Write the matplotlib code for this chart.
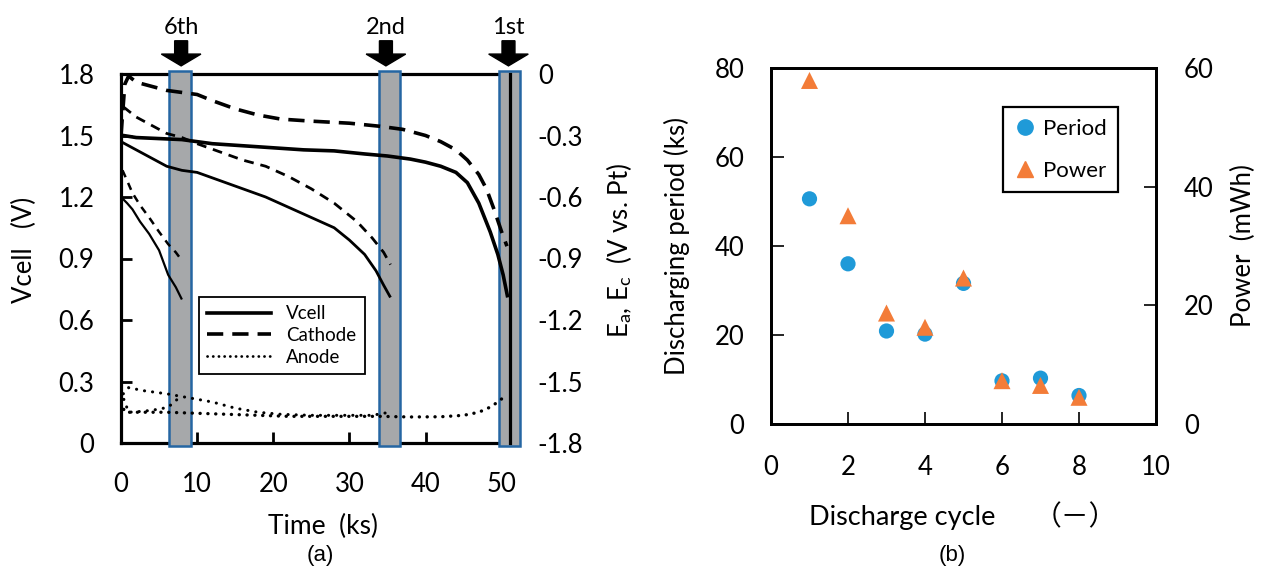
# Discharge curves (a) and discharge period / power per cycle (b)
import numpy as np
import matplotlib
matplotlib.use("Agg")
from matplotlib import pyplot as plt
from matplotlib import patches as mpatches
from matplotlib.lines import Line2D

plt.rcParams["font.family"] = ["Lato", "DejaVu Sans"]
plt.rcParams["axes.unicode_minus"] = False
plt.rcParams["mathtext.fontset"] = "custom"
plt.rcParams["mathtext.rm"] = "Lato"
plt.rcParams["mathtext.it"] = "Lato:italic"

# ----------------------------------------------------
# Data (a): time in ks, Vcell in V, electrode potentials in V vs. Pt
# ----------------------------------------------------
t_v1 = [0, 0.3, 2, 5, 8, 12, 16, 20, 24, 28, 32, 35, 38, 40, 42, 44, 45.5, 47, 48.5, 49.5, 50.2, 50.8]
vcell_1 = [1.50, 1.50, 1.49, 1.485, 1.48, 1.46, 1.45, 1.44, 1.43, 1.425, 1.41, 1.40, 1.385, 1.37,
           1.35, 1.32, 1.27, 1.17, 1.03, 0.92, 0.82, 0.71]
t_c1 = [0, 0.5, 1, 2, 4, 6, 8, 10, 12, 15, 18, 21, 25, 30, 34, 37, 40, 42, 44, 45.5, 47, 48, 49, 50, 50.7]
cath_1 = [-0.30, -0.05, -0.01, -0.04, -0.06, -0.08, -0.09, -0.10, -0.13, -0.17, -0.20, -0.22, -0.23,
          -0.24, -0.255, -0.27, -0.30, -0.33, -0.37, -0.42, -0.49, -0.56, -0.66, -0.77, -0.84]
t_a1 = [0, 0.5, 3, 6, 10, 14, 18, 22, 26, 30, 34, 38, 42, 45, 47, 48.5, 49.5, 50.5]
anode_1 = [-1.60, -1.65, -1.65, -1.65, -1.655, -1.66, -1.665, -1.67, -1.67, -1.67, -1.67, -1.673,
           -1.672, -1.665, -1.65, -1.625, -1.60, -1.57]

t_v2 = [0, 2, 4, 6, 8, 10, 13, 16, 19, 22, 25, 28, 30, 32, 33.5, 34.5, 35.4]
vcell_2 = [1.47, 1.43, 1.39, 1.35, 1.33, 1.32, 1.28, 1.24, 1.20, 1.15, 1.10, 1.05, 0.99, 0.92,
           0.84, 0.77, 0.71]
t_c2 = [0.3, 2, 4, 6, 8, 10, 13, 16, 19, 22, 25, 28, 31, 33, 34.5, 35.4]
cath_2 = [-0.16, -0.21, -0.25, -0.29, -0.31, -0.34, -0.38, -0.42, -0.45, -0.50, -0.56, -0.63,
          -0.72, -0.80, -0.87, -0.93]
t_a2 = [0.3, 1, 3, 6, 9, 12, 15, 18, 21, 25, 29, 33, 34.5, 35.3]
anode_2 = [-1.56, -1.53, -1.545, -1.56, -1.58, -1.60, -1.63, -1.65, -1.66, -1.665, -1.665, -1.665,
           -1.655, -1.65]

t_v6 = [0, 0.8, 1.5, 2.5, 3.7, 5, 6.2, 7.2, 8.0]
vcell_6 = [1.20, 1.17, 1.14, 1.08, 1.02, 0.94, 0.82, 0.76, 0.70]
t_c6 = [0.2, 0.8, 1.5, 2.5, 3.7, 5, 6.2, 7.2, 8.0]
cath_6 = [-0.47, -0.52, -0.58, -0.64, -0.70, -0.77, -0.83, -0.87, -0.91]
t_a6 = [0, 1, 3, 5, 6.2, 7, 7.6, 8.0]
anode_6 = [-1.55, -1.65, -1.645, -1.635, -1.625, -1.60, -1.58, -1.57]

band_labels = ["6th", "2nd", "1st"]
band_start = [6.3, 33.9, 49.6]
band_end = [9.2, 36.7, 52.4]
arrow_x = [7.9, 34.8, 50.9]

v_ticks = [0, 0.3, 0.6, 0.9, 1.2, 1.5, 1.8]
v_ticklabels = ["0", "0.3", "0.6", "0.9", "1.2", "1.5", "1.8"]
e_ticks = [0, -0.3, -0.6, -0.9, -1.2, -1.5, -1.8]
e_ticklabels = ["0", "-0.3", "-0.6", "-0.9", "-1.2", "-1.5", "-1.8"]

# ----------------------------------------------------
# Data (b)
# ----------------------------------------------------
cycle = [1, 2, 3, 4, 5, 6, 7, 8]
period_ks = [50.6, 36.0, 20.9, 20.2, 31.6, 9.7, 10.3, 6.4]
power_mwh = [57.9, 35.1, 18.7, 16.3, 24.6, 7.3, 6.5, 4.5]

W, H = 1262, 570


def fx(x):
    return x / W


def fy(y):
    return 1 - y / H


fig = plt.figure(figsize=(W / 100, H / 100), dpi=100)

# ----------------------------------------------------
# Panel (a)
# ----------------------------------------------------
ax = fig.add_axes([fx(121), fy(443), (510 - 121) / W, (443 - 74) / H])
ax.set_xlim(0, 51.1)
ax.set_ylim(0, 1.8)

off = 1.8  # E = V - 1.8 maps the right axis onto the left one
line_kw = dict(color="black", zorder=3, solid_capstyle="butt")
dot_kw = dict(color="black", zorder=3, dash_capstyle="round")
ax.plot(t_v1, vcell_1, lw=2.6, **line_kw)
ax.plot(t_c1, np.array(cath_1) + off, lw=2.6, ls=(0, (4.5, 2.5)), **line_kw)
ax.plot(t_a1, np.array(anode_1) + off, lw=2.4, ls=(0, (0.05, 2.3)), **dot_kw)
ax.plot(t_v2, vcell_2, lw=2.0, **line_kw)
ax.plot(t_c2, np.array(cath_2) + off, lw=2.0, ls=(0, (3.5, 2.5)), **line_kw)
ax.plot(t_a2, np.array(anode_2) + off, lw=2.2, ls=(0, (0.05, 2.6)), **dot_kw)
ax.plot(t_v6, vcell_6, lw=1.6, **line_kw)
ax.plot(t_c6, np.array(cath_6) + off, lw=1.8, ls=(0, (3.0, 2.5)), **line_kw)
ax.plot(t_a6, np.array(anode_6) + off, lw=2.2, ls=(0, (0.05, 2.6)), **dot_kw)

for x0, x1, xa, lab in zip(band_start, band_end, arrow_x, band_labels):
    ax.add_patch(mpatches.Rectangle((x0, -0.016), x1 - x0, 1.832, facecolor="#a6a8aa",
                                    edgecolor="#2566a3", lw=1.8, zorder=2.6, clip_on=False))
    ax.add_patch(mpatches.FancyArrow(xa, 1.09, 0, -0.068, width=1.7, head_width=5.2,
                                     head_length=0.032, length_includes_head=True,
                                     transform=ax.get_xaxis_transform(), color="black",
                                     clip_on=False))
    ax.text(xa, 1.125, lab, transform=ax.get_xaxis_transform(), ha="center", va="center",
            fontsize=17)

for s in ax.spines.values():
    s.set_linewidth(2.3)
ax.spines["right"].set_zorder(2.7)

ax.set_xticks([0, 10, 20, 30, 40, 50])
ax.set_yticks(v_ticks)
ax.set_yticklabels(v_ticklabels)
ax.tick_params(direction="in", length=8, width=2, labelsize=18.5)
ax.tick_params(axis="x", pad=21)
ax.tick_params(axis="y", pad=19)

sec = ax.secondary_yaxis("right", functions=(lambda v: v - off, lambda e: e + off))
sec.set_yticks(e_ticks)
sec.set_yticklabels(e_ticklabels)
sec.tick_params(direction="in", length=8, width=2, labelsize=18.5, pad=20)
sec.spines["right"].set_linewidth(2.3)

handles = [
    Line2D([], [], color="black", lw=2.6),
    Line2D([], [], color="black", lw=2.6, ls=(0, (4.5, 2.5))),
    Line2D([], [], color="black", lw=2.0, ls=(0, (0.05, 2.0)), dash_capstyle="round"),
]
leg = ax.legend(handles, ["Vcell", "Cathode", "Anode"], loc="lower left",
                bbox_to_anchor=(0.20, 0.187), borderaxespad=0, fontsize=13.5,
                handlelength=3.4, labelspacing=0.25, fancybox=False, framealpha=1,
                edgecolor="black", borderpad=0.45)
leg.get_frame().set_linewidth(1.3)
leg.set_zorder(5)

fig.text(fx(24), fy(250), "Vcell\u2003(V)", rotation=90, ha="center", va="center", fontsize=18.5)
fig.text(fx(619), fy(250), r"E$_\mathrm{a}$, E$_\mathrm{c}$  (V vs. Pt)", rotation=90,
         ha="center", va="center", fontsize=18.5)
fig.text(fx(323), fy(526), "Time  (ks)", ha="center", va="center", fontsize=19)
fig.text(fx(320), fy(556), "(a)", ha="center", va="center", fontsize=16,
         family="Liberation Sans")

# ----------------------------------------------------
# Panel (b)
# ----------------------------------------------------
blue = "#1f9ad8"
orange = "#f37c38"

bx = fig.add_axes([fx(771), fy(424), (1156 - 771) / W, (424 - 68) / H])
bx.set_xlim(0, 10)
bx.set_ylim(0, 80)
bx.scatter(cycle, period_ks, s=120, color=blue, edgecolors="none", zorder=3, clip_on=False)
bx.set_xticks([0, 2, 4, 6, 8, 10])
bx.set_yticks([0, 20, 40, 60, 80])
bx.tick_params(direction="in", length=9, width=1.2, labelsize=18.5)
bx.tick_params(axis="x", pad=22)
bx.tick_params(axis="y", pad=19)

bx2 = bx.twinx()
bx2.set_ylim(0, 60)
bx2.scatter(cycle, power_mwh, s=150, marker="^", color=orange, edgecolors="none", zorder=3,
            clip_on=False)
bx2.set_yticks([0, 20, 40, 60])
bx2.tick_params(direction="in", length=9, width=1.2, labelsize=18.5, pad=20)

for a in (bx, bx2):
    for s in a.spines.values():
        s.set_linewidth(2.0)

handles_b = [
    Line2D([], [], ls="none", marker="o", markersize=11, color=blue),
    Line2D([], [], ls="none", marker="^", markersize=12, color=orange),
]
leg_b = bx2.legend(handles_b, ["Period", "Power"], loc="lower left",
                   bbox_to_anchor=(0.603, 0.652), borderaxespad=0, fontsize=16,
                   handlelength=1.0, handletextpad=0.3, labelspacing=1.0, fancybox=False,
                   framealpha=1, edgecolor="black", borderpad=0.5)
leg_b.get_frame().set_linewidth(1.6)

fig.text(fx(677), fy(246), "Discharging period (ks)", rotation=90, ha="center", va="center",
         fontsize=18.5)
fig.text(fx(1243), fy(246), "Power  (mWh)", rotation=90, ha="center", va="center",
         fontsize=18.5)
fig.text(fx(902), fy(517), "Discharge cycle", ha="center", va="center", fontsize=19.5)
fig.text(fx(1075), fy(517), "（－）", ha="center", va="center", fontsize=20,
         family=["Noto Sans CJK JP", "DejaVu Sans"])
fig.text(fx(952), fy(555), "(b)", ha="center", va="center", fontsize=16,
         family="Liberation Sans")

fig.savefig("out.png", dpi=100)
